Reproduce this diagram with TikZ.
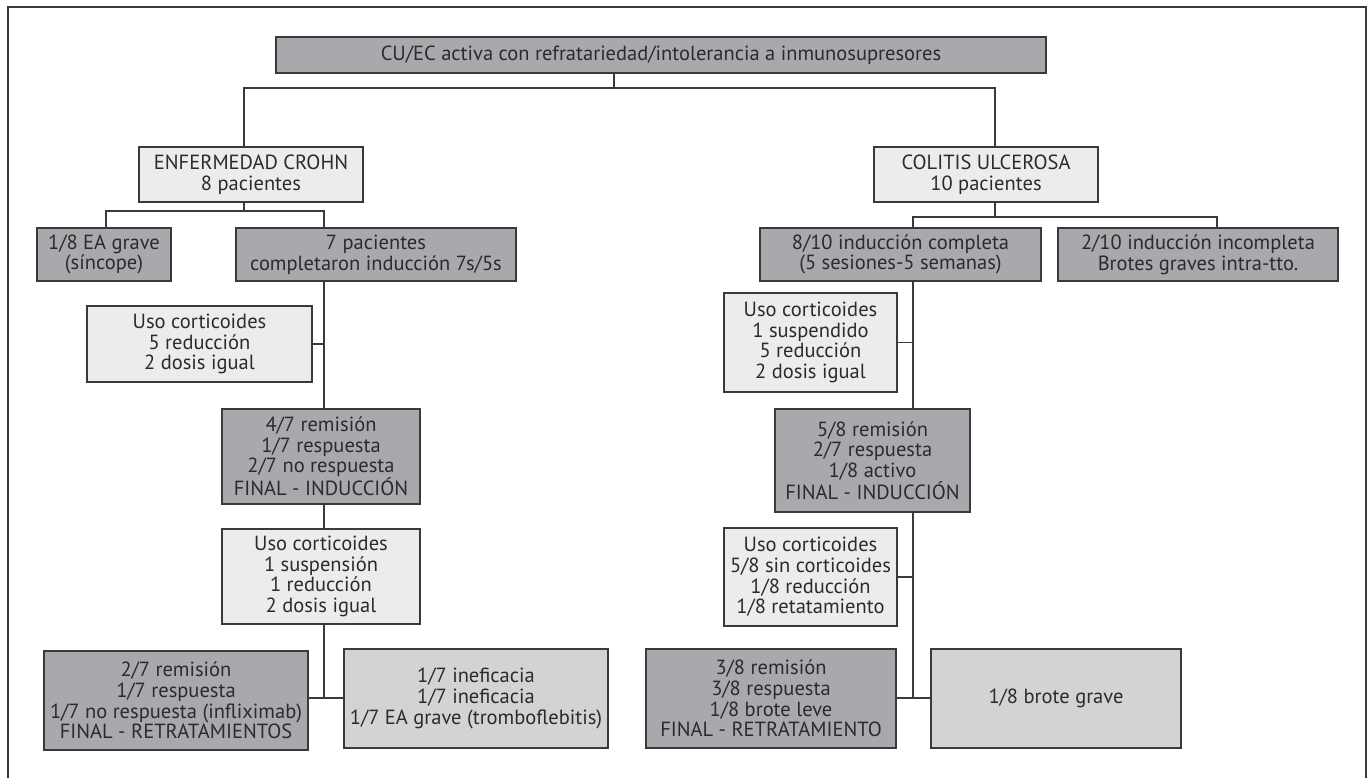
\documentclass[tikz,border=0pt]{standalone}
\usepackage{fontspec}
\setmainfont{PT Sans}
\definecolor{dk}{HTML}{A7A9AC}
\definecolor{lt}{HTML}{EBECEE}
\definecolor{md}{HTML}{D1D3D4}
\definecolor{ln}{HTML}{3A3A3A}
\definecolor{tx}{HTML}{2B2B2B}
\begin{document}
\begin{tikzpicture}[x=1pt,y=-1pt,
  box/.style={draw=ln,line width=1.3pt,inner sep=0pt,align=center,text=tx,
    font=\fontsize{20.5}{20.6}\selectfont},
  dark/.style={box,fill=dk},
  light/.style={box,fill=lt},
  mid/.style={box,fill=md},
  conn/.style={draw=ln,line width=1.2pt},
  frame/.style={draw=ln,line width=1.3pt}]
\useasboundingbox (0,0) rectangle (1369,778);
\draw[frame] (8,778) -- (8,7) -- (1366,7) -- (1366,778);

\node[dark,minimum width=770pt,minimum height=36pt] (top) at (661,55) {CU/EC activa con refratariedad/intolerancia a inmunosupresores};
\node[light,minimum width=224pt,minimum height=55pt] (enf) at (251,174.5) {ENFERMEDAD CROHN\\8 pacientes};
\node[light,minimum width=224pt,minimum height=55pt] (cu) at (986,174.5) {COLITIS ULCEROSA\\10 pacientes};
\node[dark,minimum width=134pt,minimum height=53pt] (ea) at (104,254.5) {1/8 EA grave\\(síncope)};
\node[dark,minimum width=280pt,minimum height=53pt] (sp7) at (376,254.5) {7 pacientes\\completaron inducción 7s/5s};
\node[dark,minimum width=281pt,minimum height=53pt] (ind8) at (900.5,254.5) {8/10 inducción completa\\(5 sesiones-5 semanas)};
\node[dark,minimum width=280pt,minimum height=53pt] (ind2) at (1198,254.5) {2/10 inducción incompleta\\Brotes graves intra-tto.};
\node[light,minimum width=225pt,minimum height=76pt] (uso1) at (199.5,344) {Uso corticoides\\5 reducción\\2 dosis igual};
\node[dark,minimum width=198pt,minimum height=95pt] (fin1) at (321,456.5) {4/7 remisión\\1/7 respuesta\\2/7 no respuesta\\FINAL - INDUCCIÓN};
\node[light,minimum width=198pt,minimum height=95pt] (uso2) at (321,576.5) {Uso corticoides\\1 suspensión\\1 reducción\\2 dosis igual};
\node[dark,minimum width=264pt,minimum height=99pt] (ret1) at (176,700.5) {2/7 remisión\\1/7 respuesta\\1/7 no respuesta (infliximab)\\FINAL - RETRATAMIENTOS};
\node[mid,minimum width=264pt,minimum height=99pt] (inef) at (476,698.5) {1/7 ineficacia\\1/7 ineficacia\\1/7 EA grave (tromboflebitis)};
\node[light,minimum width=173pt,minimum height=99pt] (uso3) at (810.5,342.5) {Uso corticoides\\1 suspendido\\5 reducción\\2 dosis igual};
\node[dark,minimum width=195pt,minimum height=103pt] (fin2) at (872.5,460.5) {5/8 remisión\\2/7 respuesta\\1/8 activo\\FINAL - INDUCCIÓN};
\node[light,minimum width=173pt,minimum height=98pt] (uso4) at (810.5,577) {Uso corticoides\\5/8 sin corticoides\\1/8 reducción\\1/8 retatamiento};
\node[dark,minimum width=250pt,minimum height=99pt] (ret2) at (771,698.5) {3/8 remisión\\3/8 respuesta\\1/8 brote leve\\FINAL - RETRATAMIENTO};
\node[mid,minimum width=250pt,minimum height=99pt] (brote) at (1056,698.5) {1/8 brote grave};

% top split
\coordinate (j0) at (614,88);
\coordinate (jL) at (244,88);
\coordinate (jR) at (995,88);
\draw[conn] (top.south -| j0) -- (j0);
\draw[conn] (enf.north -| jL) -- (jL) -- (jR) -- (cu.north -| jR);

% Crohn branch
\coordinate (e1) at (244,211);
\coordinate (e0) at (106,211);
\coordinate (e2) at (324,211);
\draw[conn] (enf.south -| e1) -- (e1);
\draw[conn] (ea.north -| e0) -- (e0) -- (e2) -- (sp7.north -| e2);
\coordinate (s1) at (324,698);
\draw[conn] (sp7.south -| s1) -- (fin1.north -| s1);
\draw[conn] (uso1.east) -- (uso1.east -| s1);
\draw[conn] (fin1.south -| s1) -- (uso2.north -| s1);
\draw[conn] (uso2.south -| s1) -- (s1);
\draw[conn] (ret1.east |- s1) -- (inef.west |- s1);

% Colitis branch
\coordinate (c1) at (995,217);
\coordinate (c0) at (913,217);
\coordinate (c2) at (1217,217);
\draw[conn] (cu.south -| c1) -- (c1);
\draw[conn] (ind8.north -| c0) -- (c0) -- (c2) -- (ind2.north -| c2);
\coordinate (s2) at (913,698);
\draw[conn] (ind8.south -| s2) -- (fin2.north -| s2);
\draw[conn] (uso3.east) -- (uso3.east -| s2);
\draw[conn] (fin2.south -| s2) -- (s2);
\draw[conn] (uso4.east) -- (uso4.east -| s2);
\draw[conn] (ret2.east |- s2) -- (brote.west |- s2);
\end{tikzpicture}
\end{document}
